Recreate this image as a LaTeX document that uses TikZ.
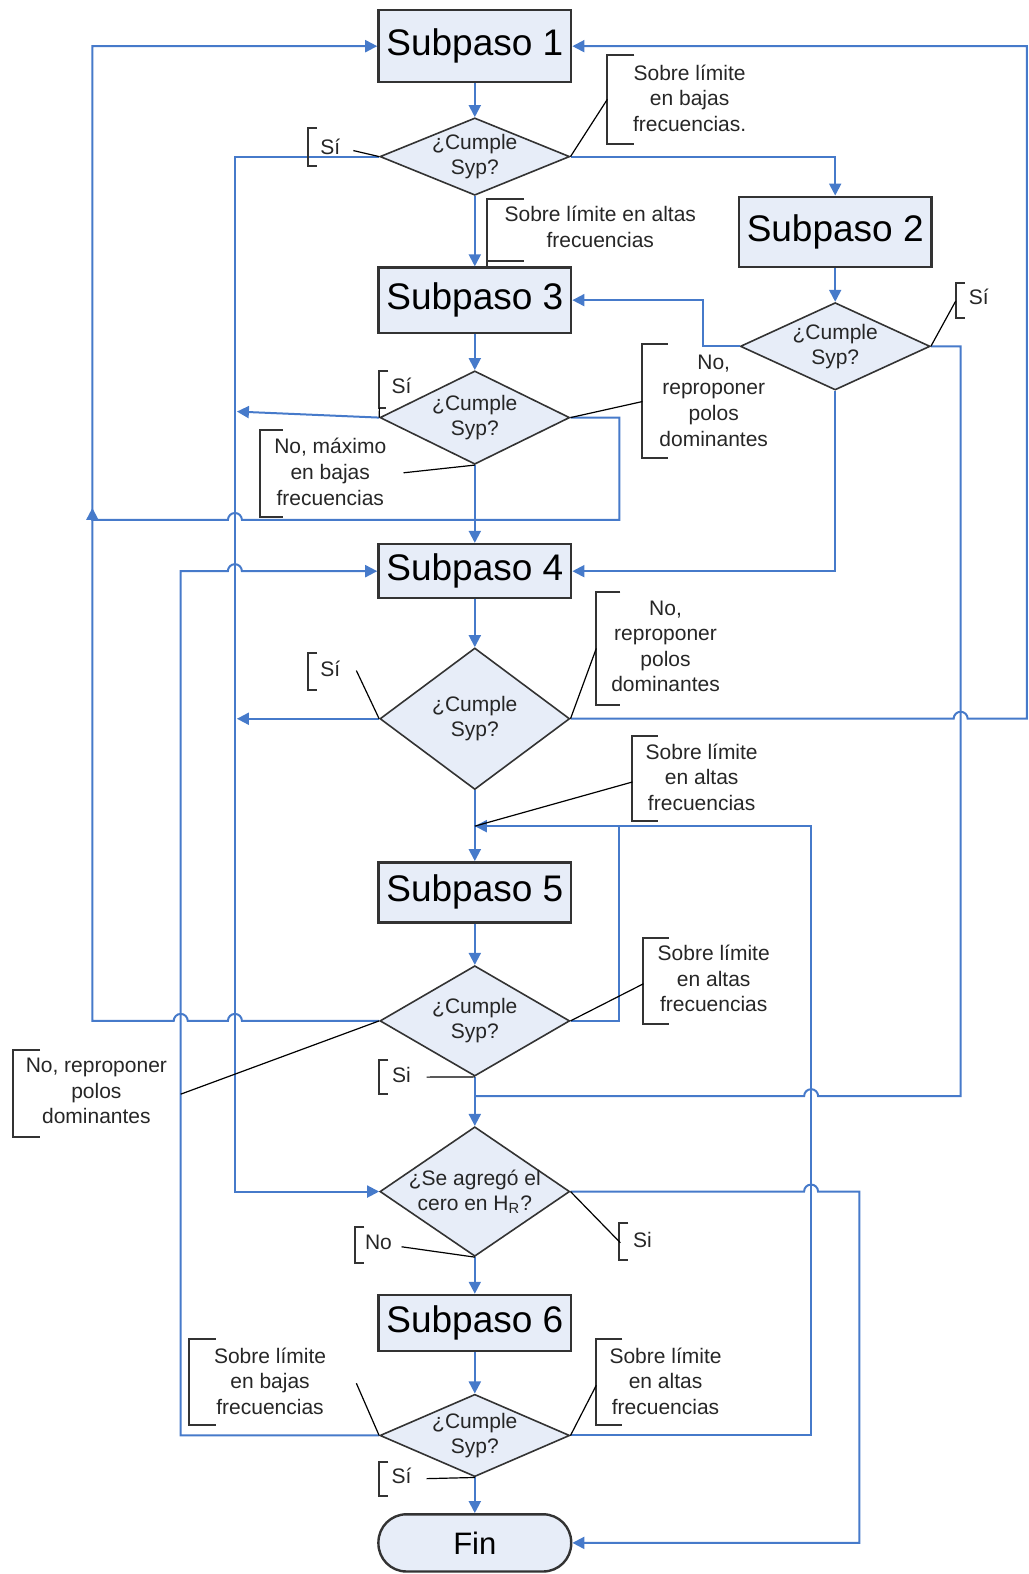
\documentclass[tikz,border=0pt]{standalone}
\usepackage{fontspec}
\setmainfont{Liberation Sans}
\usetikzlibrary{shapes.geometric,arrows.meta}
\definecolor{azul}{RGB}{70,122,202}
\definecolor{relleno}{RGB}{231,237,248}
\begin{document}
\begin{tikzpicture}[x=0.502pt,y=-0.502pt,
  subpaso/.style={draw=black!80, line width=1.2pt, fill=relleno, inner sep=2pt, minimum width=96.4pt, minimum height=#1, font=\fontsize{18.5}{22}\selectfont},
  decision/.style={diamond, draw=black!80, line width=0.8pt, fill=relleno, inner sep=0pt, minimum width=94.9pt, minimum height=#1},
  pregunta/.style={align=center, inner sep=0pt, text=black!85, font=\fontsize{10.5}{12.6}\selectfont},
  nota/.style={align=center, inner sep=0pt, text=black!85, font=\fontsize{10.5}{12.8}\selectfont},
  flujo/.style={draw=azul, line width=1pt},
  flecha/.style={flujo, -{Triangle[length=6pt,width=6pt]}},
  corchete/.style={draw=black!80, line width=1pt},
  guia/.style={draw=black, line width=0.6pt}]
\useasboundingbox (0,0) rectangle (1025,1568);

\node [subpaso=36.1pt] (s1) at (473,46) {Subpaso 1};
\node [decision=38.7pt] (d1) at (473,156) {};
\node [pregunta] (t1) at (d1) {¿Cumple\\Syp?};
\node [subpaso=35.1pt] (s2) at (832,231) {Subpaso 2};
\node [decision=43.7pt] (d2) at (832,345) {};
\node [pregunta] (t2) at (d2) {¿Cumple\\Syp?};
\node [subpaso=32.6pt] (s3) at (473,299) {Subpaso 3};
\node [decision=46.7pt] (d3) at (473,416) {};
\node [pregunta] (t3) at (d3) {¿Cumple\\Syp?};
\node [subpaso=27.1pt] (s4) at (473,569) {Subpaso 4};
\node [decision=70.8pt] (d4) at (473,716) {};
\node [pregunta] (t4) at (d4) {¿Cumple\\Syp?};
\node [subpaso=30.1pt] (s5) at (473,889) {Subpaso 5};
\node [decision=55.2pt] (d5) at (473,1017) {};
\node [pregunta] (t5) at (d5) {¿Cumple\\Syp?};
\node [decision=64.8pt] (d6) at (473,1187) {};
\node [pregunta] (t6) at (d6) {¿Se agregó el\\cero en H\textsubscript{R}?};
\node [subpaso=28.1pt] (s6) at (473,1318) {Subpaso 6};
\node [decision=41.2pt] (d7) at (473,1430) {};
\node [pregunta] (t7) at (d7) {¿Cumple\\Syp?};
\node [subpaso=28.6pt, rounded corners=14pt, font=\fontsize{15.5}{18}\selectfont] (fin) at (473,1537) {Fin};
\coordinate (m5) at (473,823);

\draw [flecha] (s1) -- (d1);
\draw [flecha] (d1) -- (s3);
\draw [flecha] (s2) -- (d2);
\draw [flecha] (s3) -- (d3);
\draw [flecha] (d3) -- (s4);
\draw [flecha] (s4) -- (d4);
\draw [flecha] (d4) -- (s5);
\draw [flecha] (s5) -- (d5);
\draw [flecha] (d5) -- (d6);
\draw [flecha] (d6) -- (s6);
\draw [flecha] (s6) -- (d7);
\draw [flecha] (d7) -- (fin);
\draw [flecha] (d1.east) -| (s2.north);
\draw [flecha] (d1.west) -| (234,1187) -- (d6.west);
\draw [flecha] (d2.west) -- (700,345) |- (s3.east);
\draw [flecha] (d2.south) |- (s4.east);
\draw [flujo] (d2.east) -| (957,1092) -- (815,1092) arc[start angle=0, end angle=180, radius=3.5pt] -- (473,1092);
\draw [flecha] (d3.west) -- (236,410);
\draw [flecha] (d3.east) -| (617,518) -- (241,518) arc[start angle=0, end angle=180, radius=3.5pt] -- (92,518) |- (s1.west);
\draw [flecha] (d4.west) -- (236,716);
\draw [flecha] (d4.east) -- (950,716) arc[start angle=180, end angle=0, radius=3.5pt] -- (1023,716) |- (s1.east);
\draw [flecha] (d5.west) -- (241,1017) arc[start angle=0, end angle=180, radius=3.5pt] -- (187,1017) arc[start angle=0, end angle=180, radius=3.5pt] -- (92,1017) -- (92,506);
\draw [flecha] (d5.east) -| (617,823) -- (m5);
\draw [flujo] (d7.east) -| (808,823) -- (617,823);
\draw [flecha] (d7.west) -| (180,569) -- (227,569) arc[start angle=180, end angle=0, radius=3.5pt] -- (s4.west);
\draw [flecha] (d6.east) -- (801,1187) arc[start angle=180, end angle=0, radius=3.5pt] -- (856,1187) |- (fin.east);

\node [nota] (n1) at (687,98) {Sobre límite\\en bajas\\frecuencias.};
\draw [corchete] (632,55) -| (605,143) -- ++(27,0);
\draw [guia] (605,99) coordinate (p1) -- (d1.east);
\node [nota] (n2) at (329,146) {Sí};
\draw [corchete] (316,128) -| (307,165) -- ++(9,0);
\draw [guia] (352,150) coordinate (p2) -- (d1.west);
\node [nota] (n3) at (598,226) {Sobre límite en altas\\frecuencias};
\draw [corchete] (522,198) -| (485,267) (485,260) -- ++(37,0);
\node [nota] (n4) at (975,296) {Sí};
\draw [corchete] (961,282) -| (952,317) -- ++(9,0);
\draw [guia] (952,300) coordinate (p4) -- (d2.east);
\node [nota] (n5) at (400,384) {Sí};
\draw [corchete] (387,370) -| (378,406) -- ++(7,0);
\draw [guia] (378,406) coordinate (p5) -- (d3.west);
\node [nota] (n6) at (711,399) {No,\\reproponer\\polos\\dominantes};
\draw [corchete] (665,343) -| (640,456) -- ++(25,0);
\draw [guia] (640,400) coordinate (p6) -- (d3.east);
\node [nota] (n7) at (329,470) {No, máximo\\en bajas\\frecuencias};
\draw [corchete] (282,428) -| (259,515) -- ++(23,0);
\draw [guia] (402,471) coordinate (p7) -- (d3.south);
\node [nota] (n8) at (663,644) {No,\\reproponer\\polos\\dominantes};
\draw [corchete] (618,590) -| (594,702) -- ++(24,0);
\draw [guia] (594,646) coordinate (p8) -- (d4.east);
\node [nota] (n9) at (329,666) {Sí};
\draw [corchete] (316,651) -| (307,687) -- ++(9,0);
\draw [guia] (355,668) coordinate (p9) -- (d4.west);
\node [nota] (n10) at (699,774) {Sobre límite\\en altas\\frecuencias};
\draw [corchete] (655,733) -| (630,818) -- ++(25,0);
\draw [guia] (630,779) coordinate (p10) -- (m5);
\node [nota] (n11) at (711,975) {Sobre límite\\en altas\\frecuencias};
\draw [corchete] (666,934) -| (641,1020) -- ++(25,0);
\draw [guia] (641,980) coordinate (p11) -- (d5.east);
\node [nota] (n12) at (96,1087) {No, reproponer\\polos\\dominantes};
\draw [corchete] (40,1046) -| (13,1133) -- ++(27,0);
\draw [guia] (180,1090) coordinate (p12) -- (d5.west);
\node [nota] (n13) at (400,1071) {Si};
\draw [corchete] (387,1056) -| (378,1090) -- ++(9,0);
\draw [guia] (425,1073) coordinate (p13) -- (d5.south);
\node [nota] (n14) at (377,1238) {No};
\draw [corchete] (363,1222) -| (354,1258) -- ++(9,0);
\draw [guia] (400,1242) coordinate (p14) -- (d6.south);
\node [nota] (n15) at (640,1235) {Si};
\draw [corchete] (626,1218) -| (617,1255) -- ++(9,0);
\draw [guia] (618,1238) coordinate (p15) -- (d6.east);
\node [nota] (n16) at (269,1376) {Sobre límite\\en bajas\\frecuencias};
\draw [corchete] (215,1334) -| (188,1420) -- ++(27,0);
\draw [guia] (355,1378) coordinate (p16) -- (d7.west);
\node [nota] (n17) at (663,1376) {Sobre límite\\en altas\\frecuencias};
\draw [corchete] (620,1334) -| (594,1420) -- ++(26,0);
\draw [guia] (594,1380) coordinate (p17) -- (d7.east);
\node [nota] (n18) at (400,1470) {Sí};
\draw [corchete] (387,1456) -| (378,1490) -- ++(9,0);
\draw [guia] (425,1473) coordinate (p18) -- (d7.south);
\end{tikzpicture}
\end{document}
